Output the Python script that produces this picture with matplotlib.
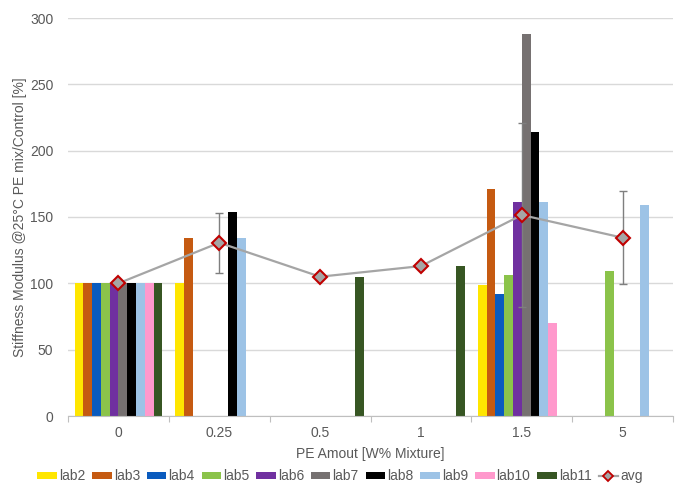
import numpy as np
import matplotlib
matplotlib.use("Agg")
import matplotlib.pyplot as plt
from matplotlib.lines import Line2D

plt.rcParams['font.family'] = ['Liberation Sans', 'DejaVu Sans']

categories = ["0", "0.25", "0.5", "1", "1.5", "5"]
series_names = ["lab2", "lab3", "lab4", "lab5", "lab6", "lab7", "lab8", "lab9", "lab10", "lab11"]
nan = np.nan
lab2 = [100, 100, nan, nan, 99, nan]
lab3 = [100, 134, nan, nan, 171, nan]
lab4 = [100, nan, nan, nan, 92, nan]
lab5 = [100, nan, nan, nan, 106, 109.5]
lab6 = [100, nan, nan, nan, 161, nan]
lab7 = [100, nan, nan, nan, 288, nan]
lab8 = [100, 154, nan, nan, 214, nan]
lab9 = [100, 134, nan, nan, 161, 159]
lab10 = [100, nan, nan, nan, 70, nan]
lab11 = [100, nan, 105, 113, nan, nan]
avg = [100, 130.6, 105, 113, 151.5, 134.4]
avg_err = [0, 22.5, 0, 0, 69, 35]

colors = ["#FFE600", "#C55A11", "#0A5BBE", "#8BC34A", "#7030A0",
          "#767171", "#000000", "#9DC3E6", "#FF99CC", "#375623"]

series = [lab2, lab3, lab4, lab5, lab6, lab7, lab8, lab9, lab10, lab11]

fig = plt.figure(figsize=(6.8, 4.92), dpi=100)
ax = fig.add_axes([68/680, 1-416/492, (673-68)/680, (416-18)/492])

x = np.arange(len(categories))
n = len(series)
w = 0.087
bar_handles = []
for i, (vals, c, name) in enumerate(zip(series, colors, series_names)):
    b = ax.bar(x + (i - (n-1)/2) * w, vals, width=w, color=c, label=name, zorder=2)
    bar_handles.append(b)

err = np.array(avg_err, dtype=float)
mask = err > 0
ax.errorbar(x[mask], np.array(avg)[mask], yerr=err[mask], fmt='none',
            ecolor='#7F7F7F', elinewidth=1, capsize=3, capthick=1, zorder=3)
line, = ax.plot(x, avg, color='#A5A5A5', lw=1.6, marker='D', markersize=7,
                markerfacecolor='#A5A5A5', markeredgecolor='#C00000', markeredgewidth=1.5,
                label='avg', zorder=4)

ax.set_xlim(-0.5, len(categories) - 0.5)
ax.set_ylim(0, 300)
ax.set_yticks(np.arange(0, 301, 50))
ax.yaxis.grid(True, color='#D9D9D9', lw=1)
ax.set_axisbelow(True)
ax.tick_params(axis='y', length=0, labelsize=10, labelcolor='#595959', pad=10.5)

ax.set_xticks(np.arange(-0.5, len(categories), 1.0))
ax.set_xticklabels([])
ax.set_xticks(x, minor=True)
ax.set_xticklabels(categories, minor=True)
ax.tick_params(axis='x', which='major', length=4, color='#BFBFBF', direction='out')
ax.tick_params(axis='x', which='minor', length=0, labelsize=10, labelcolor='#595959', pad=7)

for s in ['top', 'right', 'left']:
    ax.spines[s].set_visible(False)
ax.spines['bottom'].set_color('#BFBFBF')

ax.set_xlabel("PE Amout [W% Mixture]", fontsize=10, color='#595959', labelpad=5)
ax.set_ylabel("Stiffness Modulus @25°C PE mix/Control [%]", fontsize=10, color='#595959', labelpad=2)

leg_line = Line2D([], [], color='#A5A5A5', lw=1.6, marker='D', markersize=5,
                  markerfacecolor='#A5A5A5', markeredgecolor='#C00000', markeredgewidth=1.3)
handles = bar_handles + [leg_line]
labels = series_names + ['avg']
leg = fig.legend(handles, labels, loc='center', bbox_to_anchor=(0.5, 1-476/492), ncol=11,
                 frameon=False, fontsize=10, handlelength=1.4, handleheight=0.4,
                 handletextpad=0.15, columnspacing=0.5, labelcolor='#595959')

fig.savefig("out.png", dpi=100)
